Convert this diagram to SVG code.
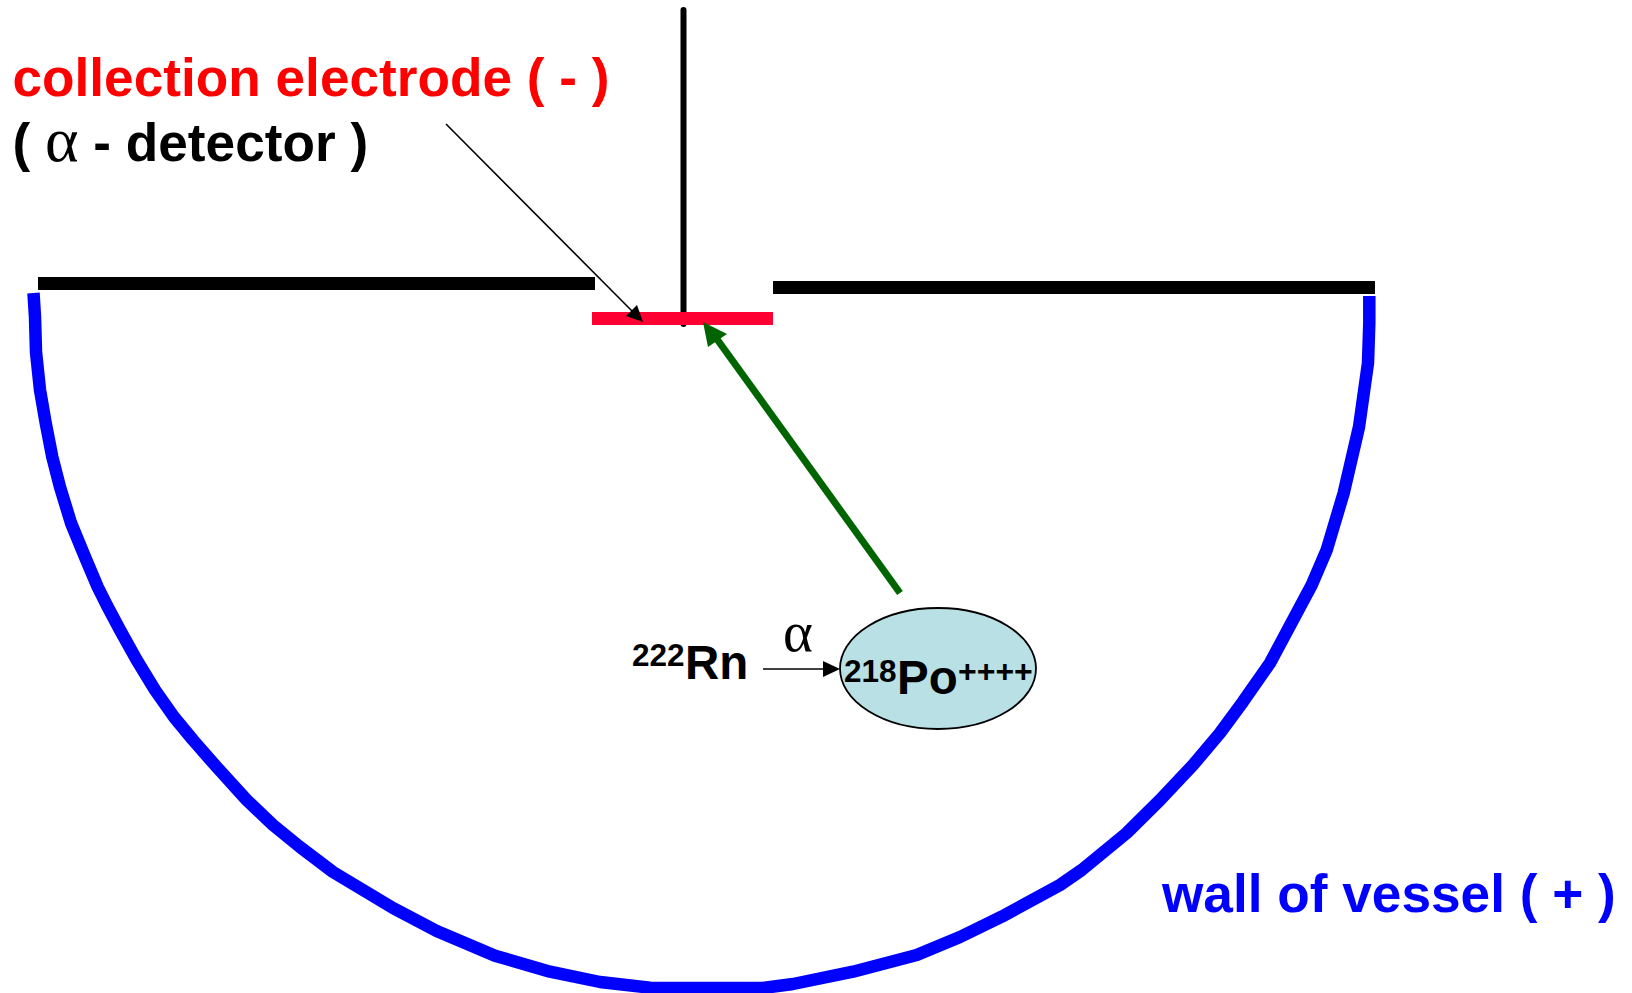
<svg xmlns="http://www.w3.org/2000/svg" width="1632" height="993" viewBox="0 0 1632 993">
<style>
text{font-family:"Liberation Sans",Arial,sans-serif;font-weight:bold}
.a{font-family:"Liberation Serif","Times New Roman",serif;font-weight:normal}
.big{font-size:53.2px}
.mid{font-size:47.5px}
.sup{font-size:31.5px}
.bar{fill:#000}
.thin{stroke:#000;stroke-width:1.6;fill:none}
</style>
<rect width="1632" height="993" fill="#fff"/>
<g id="wall"><polyline fill="none" stroke="#0000ff" stroke-width="12.5" stroke-linejoin="round" points="33.5,293 35,317 36,352 40,390 45.7,423 52.3,457 60,487 71,523 85,557 97.7,587 106.7,605 120,630 136.7,660 155,690 174,717 193,740 216.7,767 246.7,800 273,825 300,847 333,872 363,890 393,908 436.7,931 495,955.7 550,971.7 600,982 650,987.7 663,988 763,988 793,984 853,971.7 916.7,955 960,937 1001.7,916.7 1060,885 1081.7,870 1126.7,833 1160,800 1193,765 1220,733 1243,701.7 1270,663 1293,620 1311.7,585 1326.7,550 1343.7,493 1359,427 1368,363 1369.3,323 1369.3,296"/></g>
<g id="lid-left"><rect class="bar" x="38" y="277" width="557" height="13"/></g>
<g id="lid-right"><rect class="bar" x="773" y="281" width="602" height="13"/></g>
<g id="stem"><line x1="683.5" y1="10" x2="683.5" y2="324" stroke="#000" stroke-width="6" stroke-linecap="round"/></g>
<g id="electrode"><rect x="592" y="312" width="181" height="13" fill="#ff0033"/></g>
<g id="po-ion"><ellipse cx="938" cy="668.5" rx="98" ry="60.5" fill="#b9e0e4" stroke="#000" stroke-width="1.8"/>
<text x="844" y="681.5" class="sup">218</text><text x="897" y="694" class="mid">Po</text><text x="958" y="682" class="sup" style="font-size:32px">++++</text></g>
<g id="rn"><text x="632" y="666" class="sup">222</text><text x="685" y="679" class="mid">Rn</text></g>
<g id="connectors">
<line class="thin" x1="446" y1="124" x2="634" y2="313"/><polygon points="643,322 626,316 637,305" fill="#000"/>
<line x1="900" y1="593" x2="714" y2="335" stroke="#006400" stroke-width="7"/><polygon points="703,322 727,334 708,347" fill="#006400"/>
<line class="thin" x1="763" y1="669" x2="825" y2="669"/><polygon points="840,669 823,661 823,677" fill="#000"/>
</g>
<g id="labels">
<text x="12.5" y="96" class="big" fill="#ff0000">collection electrode ( - )</text>
<text x="12.5" y="161" class="big" fill="#000">( <tspan class="a" style="font-size:64px">α</tspan> - detector )</text>
<text x="783" y="650.5" class="a" style="font-size:57px" fill="#000">α</text>
<text x="1162" y="911.5" class="big" fill="#0000ff">wall of vessel ( + )</text>
</g>
</svg>
